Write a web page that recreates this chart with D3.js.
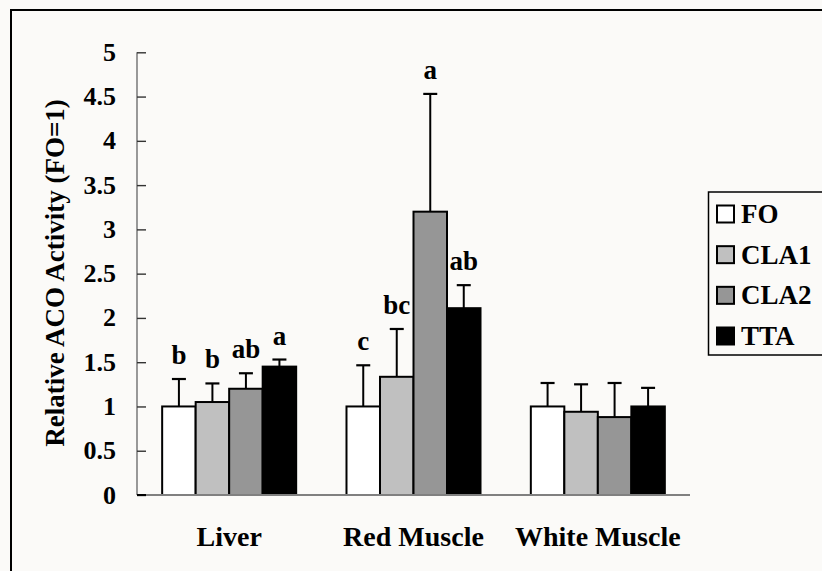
<!DOCTYPE html>
<html>
<head>
<meta charset="utf-8">
<script src="https://cdn.jsdelivr.net/npm/d3@7"></script>
<style>
  html, body { margin: 0; padding: 0; background: #fbfaf8; }
  svg { display: block; }
  text { font-family: "Liberation Serif", "Times New Roman", serif; font-weight: bold; fill: #000; }
</style>
</head>
<body>
<script>
const categories = ["Liver", "Red Muscle", "White Muscle"];
const seriesNames = ["FO", "CLA1", "CLA2", "TTA"];
const FO = [1.0, 1.0, 1.0];
const CLA1 = [1.05, 1.335, 0.94];
const CLA2 = [1.2, 3.2, 0.88];
const TTA = [1.45, 2.11, 1.0];
const FO_err = [0.31, 0.465, 0.265];
const CLA1_err = [0.21, 0.54, 0.31];
const CLA2_err = [0.175, 1.33, 0.385];
const TTA_err = [0.08, 0.26, 0.21];
const FO_letters = ["b", "c", ""];
const CLA1_letters = ["b", "bc", ""];
const CLA2_letters = ["ab", "a", ""];
const TTA_letters = ["a", "ab", ""];
const yTicks = [0, 0.5, 1, 1.5, 2, 2.5, 3, 3.5, 4, 4.5, 5];
const colors = ["#ffffff", "#c0c0c0", "#969696", "#000000"];

const values = [FO, CLA1, CLA2, TTA];
const errs = [FO_err, CLA1_err, CLA2_err, TTA_err];
const letters = [FO_letters, CLA1_letters, CLA2_letters, TTA_letters];

const W = 822, H = 571;
const svg = d3.select("body").append("svg").attr("width", W).attr("height", H);
svg.append("rect").attr("width", W).attr("height", H).attr("fill", "#fbfaf8");
// outer frame
svg.append("rect").attr("x", 11).attr("y", 10).attr("width", W + 20).attr("height", H + 20)
  .attr("fill", "none").attr("stroke", "#000").attr("stroke-width", 2);

const y = d3.scaleLinear().domain([0, 5]).range([495, 52.3]);
const x0 = d3.scaleBand().domain(categories).range([137, 690]).paddingInner(0.273).paddingOuter(0.1365);
const x1 = d3.scaleBand().domain(seriesNames).range([0, x0.bandwidth()]).padding(0);

// y axis
const yAxis = d3.axisRight(y).tickValues(yTicks).tickSize(9).tickFormat("");
const ga = svg.append("g").attr("transform", "translate(137,0)").call(yAxis);
ga.select(".domain").attr("stroke", "#808080").attr("stroke-width", 1.6).attr("d", `M0,${y(5)}V${y(0)}`);
ga.selectAll(".tick line").attr("stroke", "#333").attr("stroke-width", 1.4);
// tick labels
svg.append("g").selectAll("text").data(yTicks).join("text")
  .attr("x", 116).attr("y", d => y(d)).attr("text-anchor", "end")
  .attr("dominant-baseline", "central").attr("font-size", 26)
  .text(d => d3.format("")(d));

// bars
const groups = svg.append("g").selectAll("g").data(categories).join("g")
  .attr("transform", c => `translate(${x0(c)},0)`);

seriesNames.forEach((s, si) => {
  groups.append("line")
    .attr("x1", x1(s) + x1.bandwidth() / 2).attr("x2", x1(s) + x1.bandwidth() / 2)
    .attr("y1", (c, ci) => y(values[si][ci])).attr("y2", (c, ci) => y(values[si][ci] + errs[si][ci]))
    .attr("stroke", "#000").attr("stroke-width", 2);
  groups.append("line")
    .attr("x1", x1(s) + x1.bandwidth() / 2 - 7).attr("x2", x1(s) + x1.bandwidth() / 2 + 7)
    .attr("y1", (c, ci) => y(values[si][ci] + errs[si][ci])).attr("y2", (c, ci) => y(values[si][ci] + errs[si][ci]))
    .attr("stroke", "#000").attr("stroke-width", 2.2);
  groups.append("rect")
    .attr("x", x1(s)).attr("width", x1.bandwidth())
    .attr("y", (c, ci) => y(values[si][ci])).attr("height", (c, ci) => y(0) - y(values[si][ci]))
    .attr("fill", colors[si]).attr("stroke", "#000").attr("stroke-width", 2);
  groups.append("text")
    .attr("x", x1(s) + x1.bandwidth() / 2)
    .attr("y", (c, ci) => y(values[si][ci] + errs[si][ci]) - 15)
    .attr("text-anchor", "middle").attr("font-size", 27)
    .text((c, ci) => letters[si][ci]);
});

// x axis line
svg.append("line").attr("x1", 137).attr("x2", 690).attr("y1", y(0)).attr("y2", y(0))
  .attr("stroke", "#808080").attr("stroke-width", 2);
svg.append("line").attr("x1", 137).attr("x2", 146).attr("y1", y(0)).attr("y2", y(0))
  .attr("stroke", "#000").attr("stroke-width", 2);

// category labels
svg.append("g").selectAll("text").data(categories).join("text")
  .attr("x", c => x0(c) + x0.bandwidth() / 2).attr("y", 546)
  .attr("text-anchor", "middle").attr("font-size", 28).text(c => c);

// y title
svg.append("text").attr("transform", "translate(55,273) rotate(-90)")
  .attr("text-anchor", "middle").attr("dominant-baseline", "central")
  .attr("font-size", 27).text("Relative ACO Activity (FO=1)");

// legend
const lg = svg.append("g");
lg.append("rect").attr("x", 708.5).attr("y", 192).attr("width", 140).attr("height", 163)
  .attr("fill", "#fbfaf8").attr("stroke", "#000").attr("stroke-width", 1.5);
const rowY = d3.scalePoint().domain(seriesNames).range([214, 336]);
lg.selectAll("rect.key").data(seriesNames).join("rect").attr("class", "key")
  .attr("x", 717).attr("y", s => rowY(s) - 8.5).attr("width", 17).attr("height", 17)
  .attr("fill", (s, i) => colors[i]).attr("stroke", "#000").attr("stroke-width", 2);
lg.selectAll("text").data(seriesNames).join("text")
  .attr("x", 741).attr("y", s => rowY(s)).attr("dominant-baseline", "central")
  .attr("font-size", 27).text(s => s);
</script>
</body>
</html>
